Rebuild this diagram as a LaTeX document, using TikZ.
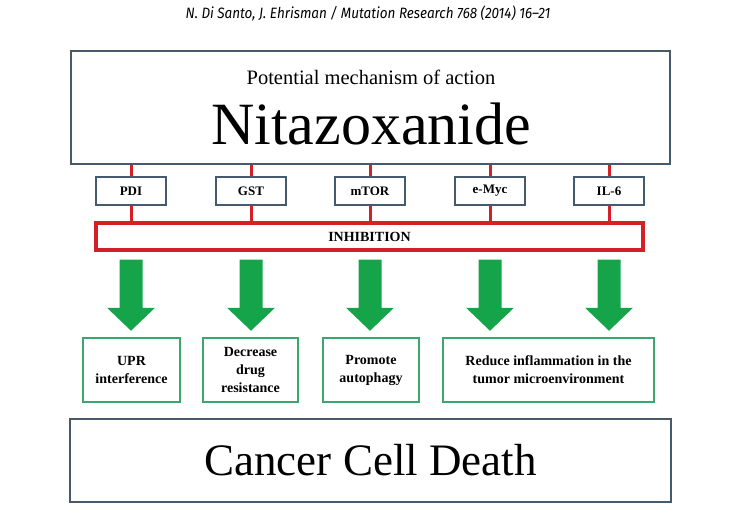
\documentclass[tikz,border=0pt]{standalone}
\usepackage{fontspec}
\setmainfont{Liberation Serif}
\newfontfamily\hdrfont[FakeStretch=0.9]{Fira Sans}
\usepackage{tikz}
\usetikzlibrary{calc,positioning}
\definecolor{Slate}{HTML}{46596D}
\definecolor{Crimson}{HTML}{D42128}
\definecolor{Leaf}{HTML}{16A44B}
\definecolor{Sage}{HTML}{3CA670}

\begin{document}
\begin{tikzpicture}[x=1pt,y=-1pt,
    target/.style={draw=Slate,line width=2pt,fill=white,minimum width=70pt,minimum height=28pt,
      font=\fontsize{13}{15}\selectfont\bfseries,inner sep=0pt},
    effect/.style={draw=Sage,line width=1.6pt,minimum height=64pt,inner sep=2pt,align=center,
      font=\fontsize{14}{18}\selectfont\bfseries},
    link/.style={draw=Crimson,line width=3pt}]
  \useasboundingbox (0,0) rectangle (740,516);
  \node[font=\hdrfont\itshape\fontsize{15}{17}\selectfont] (ref) at (368,13)
    {N. Di Santo, J. Ehrisman / Mutation Research 768 (2014) 16–21};

  % drug box
  \node[draw=Slate,line width=2.5pt,minimum width=599pt,minimum height=113pt] (drug) at (370.5,107.5) {};
  \node[font=\fontsize{20.5}{24}\selectfont] (mech) at (371,77) {Potential mechanism of action};
  \node[font=\fontsize{60}{64}\selectfont] (nita) at (371,124) {Nitazoxanide};

  % targets
  \node[target] (pdi) at (131,191) {PDI};
  \node[target] (gst) at (251,191) {GST};
  \node[target] (mtor) at (370,191) {mTOR};
  \node[target] (emyc) at (490,191) {e-Myc};
  \node[target] (il6) at (609,191) {IL-6};

  \node[draw=Crimson,line width=3.5pt,minimum width=547pt,minimum height=27pt,inner sep=0pt,
    font=\fontsize{14}{16}\selectfont\bfseries] (inh) at (369.5,236.5) {INHIBITION};

  \foreach \k in {pdi,gst,mtor,emyc,il6} {
    \draw[link] (\k.north) -- (\k.north |- drug.south);
    \draw[link] (\k.south) -- (\k.south |- inh.north);
    \fill[Leaf] ($(\k.south |- inh.south)+(-11.5,8)$) -- ++(23,0) -- ++(0,48) -- ++(12.5,0)
      -- ++(-24,23) -- ++(-24,-23) -- ++(12.5,0) -- cycle;
  }

  % effects
  \node[effect,minimum width=97pt] (upr) at (131.5,370) {UPR\\interference};
  \node[effect,minimum width=95pt] (drug2) at (250.5,370) {Decrease\\drug\\resistance};
  \node[effect,minimum width=96pt] (auto) at (371,370) {Promote\\autophagy};
  \node[effect,minimum width=211pt] (infl) at (548.5,370) {Reduce inflammation in the\\tumor microenvironment};

  \node[draw=Slate,line width=2.5pt,minimum width=601pt,minimum height=83pt,
    font=\fontsize{45}{50}\selectfont] (death) at (370.5,460.5) {Cancer Cell Death};
\end{tikzpicture}
\end{document}
